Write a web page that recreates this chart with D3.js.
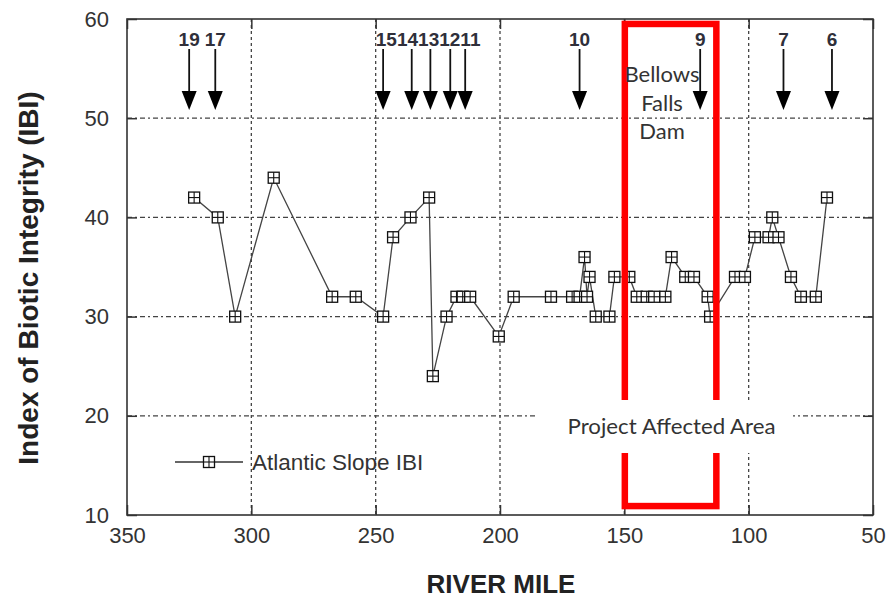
<!DOCTYPE html>
<html>
<head>
<meta charset="utf-8">
<script src="https://cdn.jsdelivr.net/npm/d3@7"></script>
<style>
  html, body { margin: 0; padding: 0; background: #fff; }
  svg { display: block; }
</style>
</head>
<body>
<svg id="chart" width="889" height="600"></svg>
<script>
// ---------- data ----------
const riverMile = [323, 313.5, 306.5, 291, 267.5, 258, 247, 243, 236, 228.5,
                   227, 221.5, 217.5, 215, 212, 200.5, 194.5, 179.5, 171, 168,
                   166, 165, 164, 161.5, 156, 154, 148, 145, 141, 138,
                   133.5, 131, 125.5, 122, 116.5, 115.5, 105.5, 101.5, 97.5, 92,
                   90.5, 88, 83, 79, 73, 68.5];
const ibi = [42, 40, 30, 44, 32, 32, 30, 38, 40, 42,
             24, 30, 32, 32, 32, 28, 32, 32, 32, 32,
             36, 32, 34, 30, 30, 34, 34, 32, 32, 32,
             32, 36, 34, 34, 32, 30, 34, 34, 38, 38,
             40, 38, 34, 32, 32, 42];
const siteLabels = ["19", "17", "15", "14", "13", "12", "11", "10", "9", "7", "6"];
const siteMiles  = [325, 314.5, 247, 235.5, 228, 220, 214, 168, 119.5, 86, 66.5];
const xTicks = [350, 300, 250, 200, 150, 100, 50];
const yTicks = [10, 20, 30, 40, 50, 60];
const seriesName = "Atlantic Slope IBI";
const xTitle = "RIVER MILE";
const yTitle = "Index of Biotic Integrity (IBI)";
const areaMiles = [149.8, 113];      // project affected area (river miles)
const areaIbi = [59.5, 10.9];
const areaLabel = "Project Affected Area";
const damLabel = ["Bellows", "Falls", "Dam"];

// ---------- layout ----------
const svg = d3.select("#chart");
const L = 127, R = 873, T = 19, B = 515;
const x = d3.scaleLinear().domain([350, 50]).range([L, R]);
const y = d3.scaleLinear().domain([10, 60]).range([B, T]);
const ink = "#333";

svg.append("rect").attr("width", 889).attr("height", 600).attr("fill", "#fff");

// gridlines
const grid = svg.append("g");
grid.selectAll("line.h").data(yTicks.filter(d => d > 10 && d < 60)).join("line")
  .attr("x1", L).attr("x2", R).attr("y1", d => y(d)).attr("y2", d => y(d))
  .attr("stroke", "#444").attr("stroke-width", 1.3).attr("stroke-dasharray", "5,3,2,3");
grid.selectAll("line.v").data(xTicks.filter(d => d < 350 && d > 50)).join("line")
  .attr("x1", d => x(d)).attr("x2", d => x(d)).attr("y1", T).attr("y2", B)
  .attr("stroke", "#444").attr("stroke-width", 1.3).attr("stroke-dasharray", "3,3");

// axes
const fontTick = "'Liberation Sans', Arial, sans-serif";
const ax = (gen, tx, ty, labels) => {
  const g = svg.append("g").attr("transform", `translate(${tx},${ty})`).call(gen);
  g.select(".domain").remove();
  g.selectAll(".tick line").attr("stroke", ink).attr("stroke-width", 1.5);
  if (!labels) g.selectAll(".tick text").remove();
  else g.selectAll(".tick text").attr("fill", ink).attr("font-size", 22).attr("font-family", fontTick);
  return g;
};
ax(d3.axisLeft(y).tickValues(yTicks).tickSize(-10).tickPadding(18).tickFormat(d3.format("d")), L, 0, true);
ax(d3.axisRight(y).tickValues(yTicks).tickSize(-10).tickFormat(""), R, 0, false);
ax(d3.axisBottom(x).tickValues(xTicks).tickSize(-10).tickPadding(12).tickFormat(d3.format("d")), 0, B, true);
ax(d3.axisTop(x).tickValues(xTicks).tickSize(-10).tickFormat(""), 0, T, false);

// data line
const pts = riverMile.map((m, i) => [m, ibi[i]]);
svg.append("path").datum(pts)
  .attr("d", d3.line().x(d => x(d[0])).y(d => y(d[1])))
  .attr("fill", "none").attr("stroke", "#444").attr("stroke-width", 1.3);

function marker(g, cx, cy) {
  const s = 5.5;
  const m = g.append("g").attr("transform", `translate(${cx},${cy})`);
  m.append("rect").attr("x", -s).attr("y", -s).attr("width", 2 * s).attr("height", 2 * s)
    .attr("fill", "#fff").attr("stroke", "#111").attr("stroke-width", 1.3);
  m.append("line").attr("x1", -s).attr("x2", s).attr("y1", 0).attr("y2", 0).attr("stroke", "#111").attr("stroke-width", 1.1);
  m.append("line").attr("y1", -s).attr("y2", s).attr("x1", 0).attr("x2", 0).attr("stroke", "#111").attr("stroke-width", 1.1);
}
const mk = svg.append("g");
pts.forEach(d => marker(mk, x(d[0]), y(d[1])));

// frame
svg.append("rect").attr("x", L).attr("y", T).attr("width", R - L).attr("height", B - T)
  .attr("fill", "none").attr("stroke", ink).attr("stroke-width", 1.6);

// site arrows
const arr = svg.append("g");
siteMiles.forEach(m => {
  const cx = x(m);
  arr.append("line").attr("x1", cx).attr("x2", cx).attr("y1", 49).attr("y2", 93)
    .attr("stroke", "#111").attr("stroke-width", 1.8);
  arr.append("path").attr("d", `M${cx - 7.5},91 L${cx + 7.5},91 L${cx},110 Z`).attr("fill", "#000");
});
// site labels with simple de-overlap (labels closer than minGap are packed together)
const minGap = 4;
const lab = svg.append("g").attr("font-family", fontTick).attr("font-weight", "bold")
  .attr("font-size", 19).attr("fill", "#2f2f3a").attr("text-anchor", "middle");
const items = siteLabels.map((t, i) => {
  const el = lab.append("text").attr("y", 46).text(t);
  return { el, ax: x(siteMiles[i]), w: el.node().getComputedTextLength() };
}).sort((a, b) => a.ax - b.ax);
let groups = items.map(it => ({ items: [it] }));
const place = g => {
  const W = d3.sum(g.items, d => d.w);
  const c = d3.mean(g.items, d => d.ax);
  g.l = c - W / 2; g.r = c + W / 2;
};
groups.forEach(place);
let merged = true;
while (merged) {
  merged = false;
  for (let i = 0; i < groups.length - 1; i++) {
    if (groups[i].r + minGap > groups[i + 1].l) {
      groups[i] = { items: groups[i].items.concat(groups[i + 1].items) };
      place(groups[i]);
      groups.splice(i + 1, 1);
      merged = true; break;
    }
  }
}
groups.forEach(g => {
  let cur = g.l;
  g.items.forEach(it => { it.el.attr("x", cur + it.w / 2); cur += it.w; });
});

// project affected area box
svg.append("rect")
  .attr("x", x(areaMiles[0])).attr("y", y(areaIbi[0]))
  .attr("width", x(areaMiles[1]) - x(areaMiles[0])).attr("height", y(areaIbi[1]) - y(areaIbi[0]))
  .attr("fill", "none").attr("stroke", "#f00").attr("stroke-width", 6.5);
svg.append("rect").attr("x", 537).attr("y", 400).attr("width", 256).attr("height", 53).attr("fill", "#fff");
const calib = "Lato, 'Open Sans', sans-serif";
svg.append("text").attr("x", (x(areaMiles[0]) + x(areaMiles[1])) / 2 + 1).attr("y", 434)
  .attr("text-anchor", "middle").attr("font-family", calib).attr("font-size", 22).attr("fill", ink)
  .attr("textLength", 208).attr("lengthAdjust", "spacingAndGlyphs").text(areaLabel);
svg.append("g").selectAll("text").data(damLabel).join("text")
  .attr("x", 662).attr("y", (d, i) => 82 + i * 28.6)
  .attr("text-anchor", "middle").attr("font-family", calib).attr("font-size", 22).attr("fill", ink)
  .text(d => d);

// legend
const lg = svg.append("g");
lg.append("line").attr("x1", 175).attr("x2", 243).attr("y1", 462).attr("y2", 462)
  .attr("stroke", ink).attr("stroke-width", 1.3);
marker(lg, 209, 462);
lg.append("text").attr("x", 252).attr("y", 470).attr("font-family", fontTick)
  .attr("font-size", 22.5).attr("fill", ink).text(seriesName);

// axis titles
svg.append("text").attr("x", 501).attr("y", 593).attr("text-anchor", "middle")
  .attr("font-family", fontTick).attr("font-weight", "bold").attr("font-size", 26).attr("fill", "#222")
  .text(xTitle);
svg.append("text").attr("transform", "translate(38,278) rotate(-90)").attr("text-anchor", "middle")
  .attr("font-family", fontTick).attr("font-weight", "bold").attr("font-size", 28).attr("fill", "#222")
  .text(yTitle);
</script>
</body>
</html>
